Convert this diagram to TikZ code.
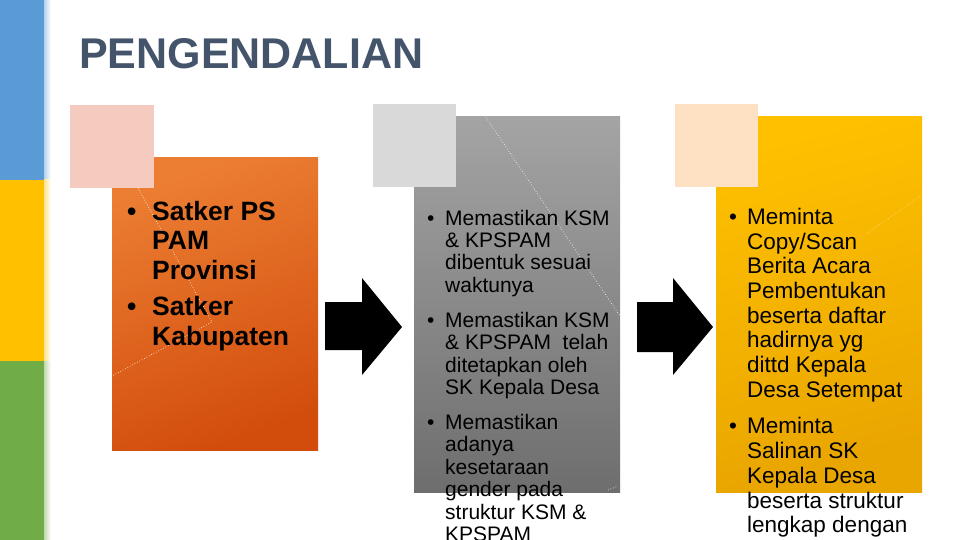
\documentclass[tikz,border=0pt]{standalone}
\usepackage{fontspec}
\setmainfont{Liberation Sans}
\definecolor{stripeblue}{HTML}{5B9BD5}
\definecolor{stripeyellow}{HTML}{FFC000}
\definecolor{stripegreen}{HTML}{70AD47}
\definecolor{titlecol}{HTML}{44546A}
\definecolor{orTop}{HTML}{EC7E33}
\definecolor{orBot}{HTML}{D24D0C}
\definecolor{pinkSq}{HTML}{F4CBBE}
\definecolor{grTop}{HTML}{A4A4A4}
\definecolor{grBot}{HTML}{6E6E6E}
\definecolor{graySq}{HTML}{D9D9D9}
\definecolor{yeTop}{HTML}{FFC000}
\definecolor{yeBot}{HTML}{E9A500}
\definecolor{peachSq}{HTML}{FDE1C2}
\newcommand\nl{\hfil\break}
\newcommand\bul[2]{\par\noindent\hangindent=#1\hangafter=1\hbox to #1{\textbullet\hfil}#2\par}
\tikzset{
  txt/.style={anchor=base west, inner sep=0pt, text=black},
  deco/.style={white, dotted, line width=0.7pt, opacity=0.85},
  blockarrow/.style={fill=black}
}
\begin{document}
\begin{tikzpicture}[x=1pt,y=-1pt]
\useasboundingbox (0,0) rectangle (960,540);
\fill[white] (0,0) rectangle (960,540);
% side stripe
\fill[stripeblue] (0,0) rectangle (44,180);
\fill[stripeyellow] (0,180) rectangle (44,361);
\fill[stripegreen] (0,361) rectangle (44,540);
\shade[left color=stripeblue!45, right color=white] (44,0) rectangle (51,180);
\shade[left color=stripeyellow!45, right color=white] (44,180) rectangle (51,361);
\shade[left color=stripegreen!45, right color=white] (44,361) rectangle (51,540);
% title
\node[anchor=base west, inner sep=0pt, text=titlecol, font=\fontsize{43}{50}\selectfont\bfseries] (title) at (79,68.3) {PENGENDALIAN};
% panel 1
\shade[top color=orTop, bottom color=orBot, shading angle=20] (112,158) rectangle (318,450);
\fill[pinkSq] (70,105) rectangle (154,188);
\draw[deco] (138,188) -- (212,322) -- (112,376);
% panel 2
\shade[top color=grTop, bottom color=grBot] (414,117) rectangle (620,492);
\fill[graySq] (373,104) rectangle (456,187);
\draw[deco] (483,113) -- (620,316);
\draw[deco] (608,490) -- (618,486);
% panel 3
\shade[top color=yeTop, bottom color=yeBot, shading angle=15] (716,117) rectangle (922,492);
\fill[peachSq] (675,104) rectangle (758,187);
\draw[deco, opacity=0.5] (922,195) -- (866,234);
% arrows
\fill[blockarrow] (325,302) -- (362,302) -- (362,278) -- (402,327) -- (362,375) -- (362,350) -- (325,350) -- cycle;
\fill[blockarrow] (637,302) -- (673,302) -- (673,278) -- (713,327) -- (673,375) -- (673,352) -- (637,352) -- cycle;
% texts
\node[txt, font=\bfseries] (t1) at (127,220) {\vtop{\hsize=220pt\fontsize{26.5}{29.5}\selectfont\parskip=7pt
\bul{25pt}{Satker PS\nl PAM\nl Provinsi}
\bul{25pt}{Satker\nl Kabupaten}}};
\node[txt] (t2) at (427,225) {\vtop{\hsize=260pt\fontsize{21}{22.4}\selectfont\parskip=12.6pt
\bul{18pt}{Memastikan KSM\nl \& KPSPAM\nl dibentuk sesuai\nl waktunya}
\bul{18pt}{Memastikan KSM\nl \& KPSPAM\ \ telah\nl ditetapkan oleh\nl SK Kepala Desa}
\bul{18pt}{Memastikan\nl adanya\nl kesetaraan\nl gender pada\nl struktur KSM \&\nl KPSPAM}}};
\node[txt] (t3) at (729,224.3) {\vtop{\hsize=260pt\fontsize{22.5}{24.7}\selectfont\parskip=12pt
\bul{18pt}{Meminta\nl Copy/Scan\nl Berita Acara\nl Pembentukan\nl beserta daftar\nl hadirnya yg\nl dittd Kepala\nl Desa Setempat}
\bul{18pt}{Meminta\nl Salinan SK\nl Kepala Desa\nl beserta struktur\nl lengkap dengan}}};
\end{tikzpicture}
\end{document}
